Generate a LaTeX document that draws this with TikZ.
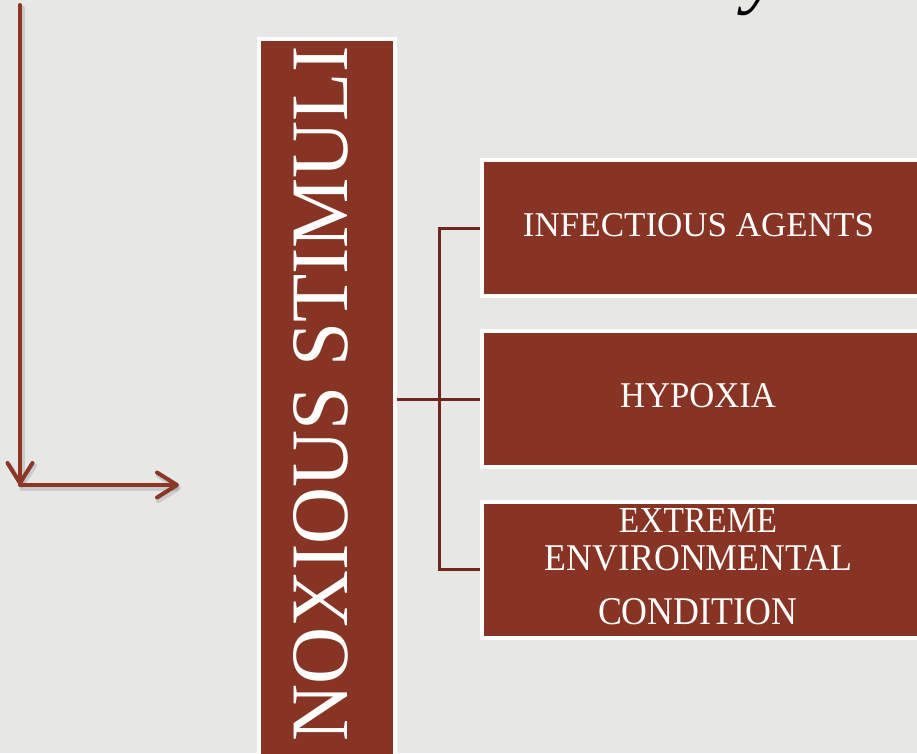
\documentclass[tikz,border=0pt]{standalone}
\usepackage{fontspec}
\setmainfont{Liberation Serif}
\usetikzlibrary{arrows.meta}
\definecolor{bg}{RGB}{231,231,230}
\definecolor{rust}{RGB}{135,52,36}
\definecolor{arrowc}{RGB}{139,54,38}
\definecolor{linec}{RGB}{112,38,28}
\begin{document}
\begin{tikzpicture}[x=1pt,y=-1pt,
  box/.style={fill=rust, draw=white, line width=4pt, inner sep=0pt, anchor=north west},
  lbl/.style={text=white, inner sep=0pt, anchor=base},
  conn/.style={draw=linec, line width=3pt},
  arr/.style={draw=arrowc, line width=4pt, line cap=round,
    -{Straight Barb[length=20pt,width=25pt,round]}},
  shad/.style={draw=black, opacity=0.12, line width=5pt, line cap=round,
    -{Straight Barb[length=20pt,width=25pt,round]}},
]
\useasboundingbox (0,0) rectangle (917,753);
\clip (0,0) rectangle (917,753);
\fill[bg] (0,0) rectangle (917,753);

% partial italic letter at top
\node[inner sep=0pt, anchor=base west, font=\fontsize{80}{80}\selectfont\itshape] (yy) at (744,-2) {y};

% L-shaped arrow
\coordinate (top) at (20,5);
\coordinate (corner) at (20,485);
\coordinate (end) at (179,485);
\draw[shad] ([shift={(2,3)}]top) -- ([shift={(2,3)}]corner);
\draw[shad] ([shift={(2,3)}]corner) -- ([shift={(2,3)}]end);
\draw[arr] (top) -- (corner);
\draw[arr] (corner) -- (end);

% big vertical box
\node[box, minimum width=136pt, minimum height=770pt] (big) at (256.5,37) {};
\node[text=white, inner sep=0pt, rotate=90, anchor=base west] (t0) at (347,742)
  {\resizebox{695pt}{54pt}{NOXIOUS STIMULI}};

% right boxes
\node[box, minimum width=460pt, minimum height=136pt] (b1) at (480,158) {};
\node[box, minimum width=460pt, minimum height=136pt] (b2) at (480,329) {};
\node[box, minimum width=460pt, minimum height=135.5pt] (b3) at (480,500) {};

\node[lbl] (t1) at (698.5,236) {\resizebox{351pt}{23pt}{INFECTIOUS AGENTS}};
\node[lbl] (t2) at (698,407) {\resizebox{156pt}{24pt}{HYPOXIA}};
\node[lbl] (t3a) at (698,532) {\resizebox{158pt}{24pt}{EXTREME}};
\node[lbl] (t3b) at (698.5,570) {\resizebox{307pt}{25pt}{ENVIRONMENTAL}};
\node[lbl] (t3c) at (697.5,624) {\resizebox{199pt}{26pt}{CONDITION}};

% connectors
\draw[conn] (big.east |- b2.west) -- (b2.west);
\draw[conn] (b1.west) -- ++(-41,0) |- (b3.west);
\end{tikzpicture}
\end{document}
